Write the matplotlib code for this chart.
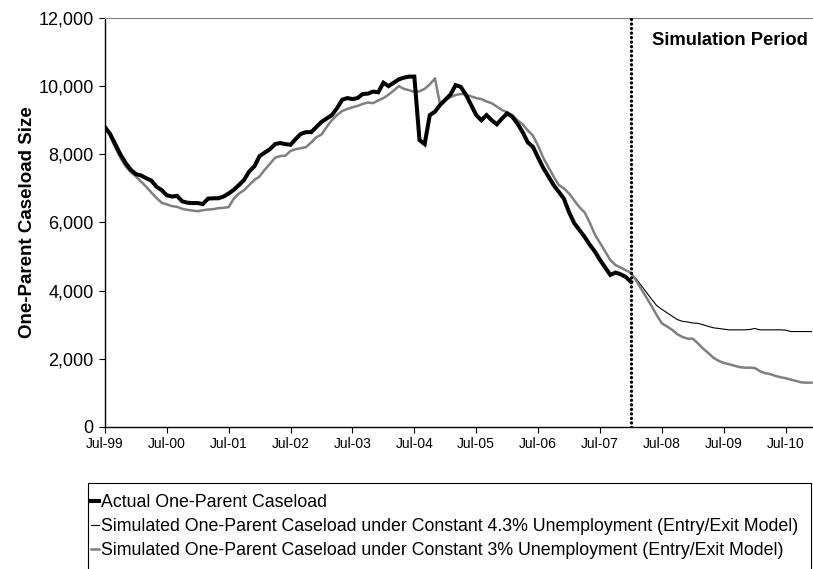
import numpy as np
import matplotlib
matplotlib.use("Agg")
import matplotlib.pyplot as plt
from matplotlib.patches import Rectangle

plt.rcParams['font.family'] = ['Liberation Sans', 'DejaVu Sans']

# months since Jul-99
tick_labels = ["Jul-99", "Jul-00", "Jul-01", "Jul-02", "Jul-03", "Jul-04",
               "Jul-05", "Jul-06", "Jul-07", "Jul-08", "Jul-09", "Jul-10"]

# actual caseload, Jul-99 .. Jan-08
actual = [8800, 8600, 8300, 8000, 7750, 7550, 7420, 7380, 7300, 7230, 7050, 6950,
          6800, 6760, 6780, 6620, 6580, 6570, 6570, 6540, 6700, 6710, 6710, 6760,
          6850, 6960, 7100, 7250, 7500, 7650, 7950, 8050, 8150, 8300, 8330, 8300,
          8280, 8450, 8600, 8650, 8650, 8800, 8950, 9050, 9150, 9350, 9600, 9650,
          9620, 9650, 9770, 9780, 9840, 9820, 10100, 10000, 10100, 10200, 10250, 10280,
          10280, 8420, 8300, 9150, 9250, 9450, 9600, 9750, 10030, 9980, 9750, 9450,
          9150, 9000, 9150, 9000, 8880, 9050, 9200, 9100, 8900, 8650, 8350, 8220,
          7900, 7600, 7350, 7100, 6900, 6700, 6300, 5980, 5780, 5580, 5350, 5150,
          4900, 4680, 4460, 4530, 4480, 4400, 4260]

# simulated, 3% unemployment, Jul-99 .. Dec-10
sim3 = [8800, 8550, 8200, 7900, 7650, 7480, 7350, 7200, 7050, 6880, 6720, 6580,
        6530, 6480, 6460, 6400, 6370, 6350, 6330, 6360, 6380, 6390, 6420, 6430,
        6450, 6700, 6850, 6950, 7100, 7250, 7350, 7550, 7720, 7900, 7950, 7960,
        8100, 8150, 8180, 8210, 8350, 8500, 8580, 8800, 9000, 9150, 9270, 9330,
        9380, 9420, 9480, 9520, 9500, 9580, 9650, 9750, 9870, 10000, 9920, 9880,
        9830, 9850, 9920, 10050, 10230, 9450, 9600, 9680, 9740, 9770, 9760, 9700,
        9650, 9620, 9550, 9500, 9400, 9300, 9230, 9150, 9000, 8880, 8700, 8550,
        8250, 7900, 7620, 7350, 7100, 7000, 6850, 6650, 6450, 6300, 6000, 5650,
        5400, 5150, 4900, 4750, 4680, 4600, 4520, 4300, 4050, 3800, 3550, 3280,
        3040, 2950, 2850, 2720, 2640, 2590, 2590, 2450, 2300, 2170, 2030, 1940,
        1880, 1840, 1800, 1760, 1740, 1740, 1730, 1640, 1580, 1550, 1500, 1460,
        1430, 1390, 1350, 1310, 1300, 1300]

# simulated, 4.3% unemployment, Jan-08 .. Dec-10 (same as above before)
sim43_tail = [4520, 4350, 4150, 3950, 3750, 3560, 3450, 3350, 3250, 3150, 3100, 3080,
              3050, 3040, 3000, 2950, 2910, 2890, 2870, 2850, 2850, 2850, 2850, 2860,
              2890, 2850, 2850, 2850, 2850, 2850, 2840, 2800, 2800, 2800, 2800, 2800]

sim_start = 102  # Jan-08

x_act = np.arange(len(actual))
x_sim = np.arange(len(sim3))
x43 = np.arange(sim_start, sim_start + len(sim43_tail))

W, H = 813, 569
fig = plt.figure(figsize=(8.13, 5.69), dpi=100)
ax = fig.add_axes([0.129, 0.2496, 0.871, 0.7188])

l1, = ax.plot(x_act, actual, color='black', lw=2.9, solid_joinstyle='miter',
              label="Actual One-Parent Caseload", zorder=4)
l2, = ax.plot(x43, sim43_tail, color='black', lw=0.8,
              label="Simulated One-Parent Caseload under Constant 4.3% Unemployment (Entry/Exit Model)", zorder=2)
l3, = ax.plot(x_sim, sim3, color='#808080', lw=1.8,
              label="Simulated One-Parent Caseload under Constant 3% Unemployment (Entry/Exit Model)", zorder=3)

ax.axvline(sim_start, color='black', lw=2.4, ls=(0, (0.01, 1.35)),
           dash_capstyle='round', zorder=5)
ax.text(0.773, 0.946, "Simulation Period", transform=ax.transAxes,
        fontsize=13.2, fontweight='bold', ha='left', va='center')

ax.set_xlim(0, 137.3)
ax.set_ylim(0, 12000)
ax.set_xticks(np.arange(0, 12 * len(tick_labels), 12))
ax.set_xticklabels(tick_labels, fontsize=10)
ax.set_yticks(np.arange(0, 12001, 2000))
ax.set_yticklabels([f"{v:,}" for v in range(0, 12001, 2000)], fontsize=13)
ax.tick_params(direction='out', length=4, width=0.8, pad=4)
ax.tick_params(axis='x', pad=3)
ax.set_ylabel("One-Parent Caseload Size", fontsize=13.5, fontweight='bold', labelpad=2)

ax.spines['top'].set_color('#808080')
ax.spines['right'].set_visible(False)
ax.spines['left'].set_linewidth(1.0)
ax.spines['bottom'].set_linewidth(1.0)

# legend box drawn separately (tight left padding, runs off the bottom)
fig.patches.append(Rectangle((88 / W, 1 - 580 / H), (811 - 88) / W, (580 - 483) / H,
                             transform=fig.transFigure, fill=False,
                             edgecolor='black', lw=0.8))
leg = fig.legend(handles=[l1, l2, l3], loc='upper left',
                 bbox_to_anchor=(90 / W, 1 - 493 / H), fontsize=12.8,
                 handlelength=0.45, handletextpad=0.1, labelspacing=0.4,
                 borderpad=0.05, borderaxespad=0, frameon=False)

fig.savefig("out.png", dpi=100)
